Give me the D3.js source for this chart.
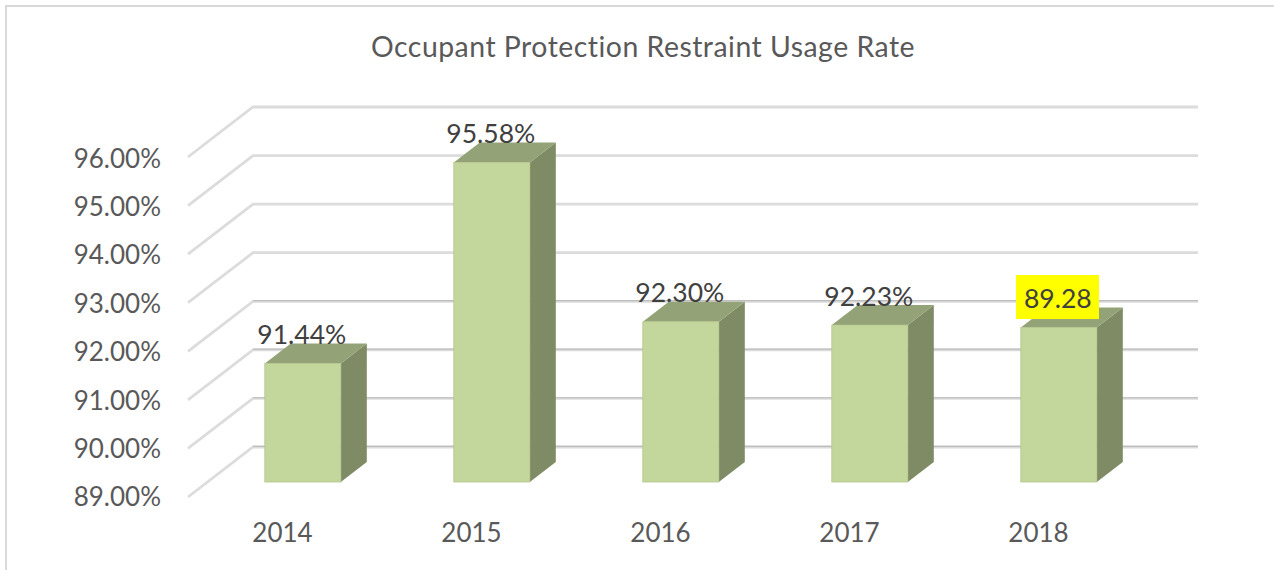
<!DOCTYPE html>
<html>
<head>
<meta charset="utf-8">
<script src="https://cdnjs.cloudflare.com/ajax/libs/d3/7.8.5/d3.min.js"></script>
<style>html,body{margin:0;padding:0;background:#fff;overflow:hidden}svg{display:block}text{font-family:Lato,"Open Sans",sans-serif}</style>
</head>
<body>
<svg id="c" width="1274" height="570"></svg>
<script>
const chartTitle = "Occupant Protection Restraint Usage Rate";
const categories = ["2014","2015","2016","2017","2018"];
const barValues = [91.44,95.58,92.30,92.23,92.18];
const barLabels = ["91.44%","95.58%","92.30%","92.23%","89.28"];
const highlighted = ["89.28"];
const yTicks = [89,90,91,92,93,94,95,96];

const svg = d3.select("#c");
const x = d3.scaleBand().domain(categories).range([188,1133]);
const y = d3.scaleLinear().domain([89,96]).range([497,157]);
const wallDx = 65, wallDy = 50;
const barW = 76, barDx = 26, barDy = 20, shiftX = 20.3, shiftY = 15;

// frame
svg.append("path").attr("d","M6,570V6H1274").attr("fill","none").attr("stroke","#d9d9d9").attr("stroke-width",2);

// title
svg.append("text").attr("x",643).attr("y",56.6).attr("text-anchor","middle")
  .attr("font-size",28.4).attr("letter-spacing",0.5).attr("fill","#595959").text(chartTitle);

// gridlines (side wall + back wall)
const grid = svg.append("g");
yTicks.forEach(t=>{
  const yf=y(t), yb=yf-wallDy, xl=x.range()[0], xb=xl+wallDx, xr=x.range()[1]+wallDx;
  grid.append("path").attr("d",`M${xl},${yf}L${xb},${yb}H${xr}`)
    .attr("fill","none").attr("stroke", "#dcdcdc").attr("stroke-width",2.8);
  if(t<=92){
    grid.append("path").attr("d",`M${xb},${yb-0.7}H${xr}`).attr("fill","none").attr("stroke","#bdbdbd").attr("stroke-width",1.2);
  }
});

// axis labels
const yLabelScale = d3.scaleLinear().domain([89,96]).range([505.7,167.3]);
const yAxis = d3.axisLeft(yLabelScale)
  .tickValues(yTicks).tickFormat(d=>d3.format(".2f")(d)+"%").tickSize(0).tickPadding(0);
const ya = svg.append("g").attr("transform","translate(161,0)").call(yAxis);
ya.select(".domain").remove();
ya.selectAll("text").attr("font-size",26).attr("fill","#595959").attr("dy",0).style("font-family","Lato");

const xAxis = d3.axisBottom(x).tickSize(0).tickPadding(0);
const xa = svg.append("g").attr("transform","translate(0,541.7)").call(xAxis);
xa.select(".domain").remove();
xa.selectAll("text").attr("font-size",26).attr("fill","#595959").attr("y",0).attr("dy",0).style("font-family","Lato");

// bars
const bars = svg.selectAll(".bar").data(categories.map((c,i)=>({c,v:barValues[i],l:barLabels[i]}))).join("g").attr("class","bar");
const cx = d=>x(d.c)+x.bandwidth()/2+shiftX;
const yTop = d=>y(d.v)-shiftY;
const yBot = y(89)-shiftY;
bars.append("path").attr("fill","#7f8b65").attr("d",d=>{
  const r=cx(d)+barW/2;
  return `M${r},${yTop(d)}L${r+barDx},${yTop(d)-barDy}V${yBot-barDy}L${r},${yBot}Z`;
});
bars.append("path").attr("fill","#94a377").attr("d",d=>{
  const l=cx(d)-barW/2, r=l+barW, t=yTop(d);
  return `M${l},${t}L${l+barDx},${t-barDy}H${r+barDx}L${r},${t}Z`;
});
bars.append("rect").attr("x",d=>cx(d)-barW/2).attr("y",yTop).attr("width",barW)
  .attr("height",d=>yBot-yTop(d)).attr("fill","#c3d69b").attr("stroke","#b3c68d").attr("stroke-width",0.8);

// data labels
bars.filter(d=>highlighted.includes(d.l)).append("rect")
  .attr("x",d=>cx(d)-42.8).attr("y",d=>yTop(d)-52.5).attr("width",83).attr("height",44)
  .attr("fill","#ffff00");
bars.append("text").attr("x",d=>cx(d)-1).attr("y",d=>yTop(d)-19.5).attr("text-anchor","middle")
  .attr("font-size",26.5).attr("fill","#404040").text(d=>d.l);
</script>
</body>
</html>
